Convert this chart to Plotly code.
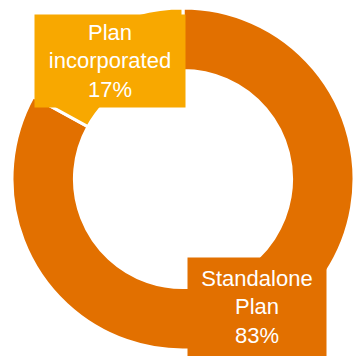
import plotly.graph_objects as go

# Share of plans by type (drawn clockwise from 12 o'clock)
labels = ["Standalone Plan", "Plan incorporated"]
values = [83, 17]
colors = ["#E27000", "#F8A800"]

fig = go.Figure()
fig.add_trace(go.Pie(
    labels=labels,
    values=values,
    hole=0.635,
    sort=False,
    direction="clockwise",
    rotation=0,
    marker=dict(colors=colors, line=dict(color="white", width=3)),
    textinfo="none",
    hoverinfo="label+percent",
    showlegend=False,
    domain=dict(x=[12 / 354, 1.0], y=[6 / 356, 348 / 356]),
))

total = sum(values)
pct = [round(v / total * 100) for v in values]

# Boxed labels in the slice colours
label_boxes = [
    dict(x=257 / 354, y=49 / 356, w=134, h=94),
    dict(x=110 / 354, y=295 / 356, w=146, h=88),
]
for name, p, col, box in zip(labels, pct, colors, label_boxes):
    text = "<br>".join(name.split(" ", 1))
    fig.add_annotation(
        xref="paper", yref="paper", x=box["x"], y=box["y"],
        xanchor="center", yanchor="middle",
        text=f"{text}<br>{p}%",
        showarrow=False,
        align="center",
        bgcolor=col,
        borderpad=2,
        width=box["w"], height=box["h"],
        font=dict(family="Liberation Sans, Arial, sans-serif", size=22, color="white"),
    )

fig.update_layout(
    width=354, height=356,
    margin=dict(l=0, r=0, t=0, b=0),
    paper_bgcolor="white",
    plot_bgcolor="white",
)

fig.write_html("out.html")
